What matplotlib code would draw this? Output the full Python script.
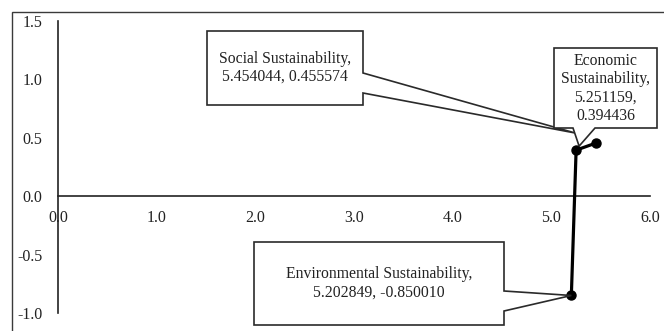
import matplotlib
matplotlib.use("Agg")
import matplotlib.pyplot as plt
from matplotlib.patches import Polygon, Rectangle

plt.rcParams['font.family'] = ['Liberation Serif', 'DejaVu Serif']

# data
names = ["Environmental Sustainability", "Economic Sustainability", "Social Sustainability"]
x_vals = [5.202849, 5.251159, 5.454044]
y_vals = [-0.850010, 0.394436, 0.455574]
x_ticks = [0.0, 1.0, 2.0, 3.0, 4.0, 5.0, 6.0]
y_ticks = [-1.0, -0.5, 0.0, 0.5, 1.0, 1.5]

W, H = 664, 331
fig = plt.figure(figsize=(W / 100, H / 100), dpi=100)
ax = fig.add_axes([58 / W, 1 - 313 / H, 592 / W, 292 / H])
ax.set_xlim(0, 6)
ax.set_ylim(-1.0, 1.5)

# outer chart border (cropped on right/bottom)
fig.patches.append(Rectangle((12 / W, -0.1), 1.2, 1.1 - 12 / H, transform=fig.transFigure,
                             fill=False, edgecolor='#3a3a3a', linewidth=1.0))

for s in ['top', 'right']:
    ax.spines[s].set_visible(False)
ax.spines['left'].set_position(('data', 0))
ax.spines['bottom'].set_position(('data', 0))
for s in ['left', 'bottom']:
    ax.spines[s].set_color('#222222')
    ax.spines[s].set_linewidth(1.2)
ax.set_xticks(x_ticks)
ax.set_xticklabels([f"{v:.1f}" for v in x_ticks])
ax.set_yticks(y_ticks)
ax.set_yticklabels([f"{v:.1f}" for v in y_ticks])
ax.tick_params(axis='x', length=0, pad=10, labelsize=11.5, colors='#222222')
ax.tick_params(axis='y', length=0, pad=11, labelsize=11.5, colors='#222222')
ax.patch.set_visible(False)

ax.plot(x_vals, y_vals, color='black', linewidth=2.3, marker='o', markersize=6.5,
        zorder=5, clip_on=False)

fig.canvas.draw()

def to_px(x, y):
    px, py = ax.transData.transform((x, y))
    return px, py

def pix(x, y):
    # top-left pixel coords -> display
    return x, H - y

def callout(box, notch, tip, side, text, lines_y):
    l, t, r, b = box
    if side == 'right':
        pts = [pix(l, t), pix(r, t), pix(r, notch[0]), tip, pix(r, notch[1]), pix(r, b), pix(l, b)]
    else:
        pts = [pix(l, t), pix(r, t), pix(r, b), pix(notch[1], b), tip, pix(notch[0], b), pix(l, b)]
    poly = Polygon(pts, closed=True, transform=None, facecolor='white',
                   edgecolor='#2a2a2a', linewidth=1.2, zorder=10)
    fig.patches.append(poly)
    cx = (l + r) / 2
    for i, line in enumerate(text):
        fig.text(cx / W, 1 - lines_y[i] / H, line, ha='center', va='center',
                 fontsize=11.3, color='#222222', zorder=11)

# Social callout
sx, sy = to_px(x_vals[2], y_vals[2])
callout((207, 31, 363, 105), (73, 93), (sx - 21, sy + 10), 'right',
        [f"{names[2]},", f"{x_vals[2]:.6f}, {y_vals[2]:.6f}"], [59, 77])
# Economic callout
ex, ey = to_px(x_vals[1], y_vals[1])
callout((554, 48, 657, 128), (573, 595), (ex + 3, ey + 4), 'bottom',
        ["Economic", "Sustainability,", f"{x_vals[1]:.6f},", f"{y_vals[1]:.6f}"], [61, 79, 98, 116])
# Environmental callout
vx, vy = to_px(x_vals[0], y_vals[0])
callout((254, 242, 504, 325), (291, 311), (vx, vy), 'right',
        [f"{names[0]},", f"{x_vals[0]:.6f}, {y_vals[0]:.6f}"], [274, 293])

fig.savefig("out.png", dpi=100)
